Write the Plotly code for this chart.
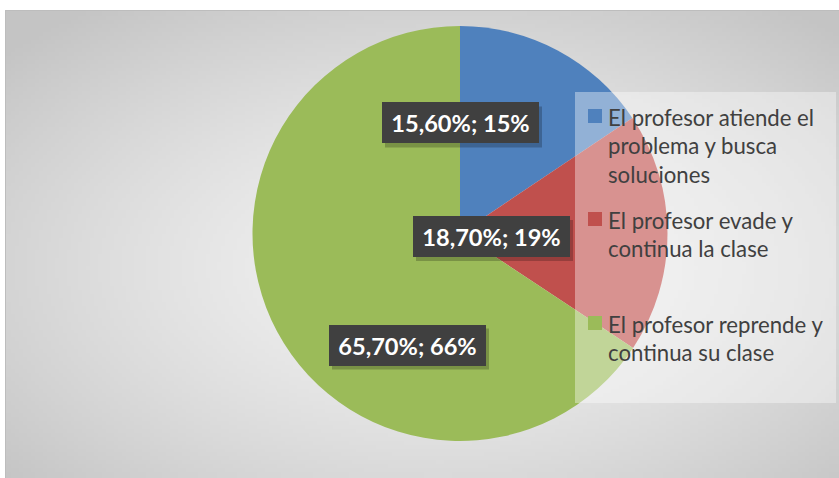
import zlib, struct, base64
import numpy as np
import plotly.graph_objects as go

# ---------------- data ----------------
categories = [
    "El profesor atiende el problema y busca soluciones",
    "El profesor evade y continua la clase",
    "El profesor reprende y continua su clase",
]
values = [15.6, 18.7, 65.7]
label_texts = ["15,60%; 15%", "18,70%; 19%", "65,70%; 66%"]
legend_lines = [
    ["El profesor atiende el", "problema y busca", "soluciones"],
    ["El profesor evade y", "continua la clase"],
    ["El profesor reprende y", "continua su clase"],
]

# ---------------- style ----------------
colors = ["#4F81BD", "#C0504D", "#9BBB59"]
W, H = 839, 478
FRAME = (5, 10, 839, 478)  # x0, y0, x1, y1 in px


def px(x):
    return x / W


def py(y):
    return 1 - y / H


def png_uri(arr):
    h, w, _ = arr.shape
    raw = b"".join(b"\x00" + arr[r].tobytes() for r in range(h))

    def chunk(tag, data):
        c = struct.pack(">I", len(data)) + tag + data
        return c + struct.pack(">I", zlib.crc32(tag + data) & 0xFFFFFFFF)

    png = b"\x89PNG\r\n\x1a\n"
    png += chunk(b"IHDR", struct.pack(">IIBBBBB", w, h, 8, 2, 0, 0, 0))
    png += chunk(b"IDAT", zlib.compress(raw, 9))
    png += chunk(b"IEND", b"")
    return "data:image/png;base64," + base64.b64encode(png).decode()


# radial grey gradient background
gw, gh = 210, 118
yy, xx = np.mgrid[0:gh, 0:gw]
dx = (xx / (gw - 1) - 0.52) / 0.5
dy = (yy / (gh - 1) - 0.55) / 0.5
d = np.clip(np.sqrt(dx ** 2 + dy ** 2) / np.sqrt(2), 0, 1)
val = 243 - (243 - 196) * d ** 1.4
img = np.repeat(val[:, :, None], 3, axis=2).astype(np.uint8)
bg_uri = png_uri(img)

fig = go.Figure()
fig.add_trace(go.Pie(
    labels=categories,
    values=values,
    sort=False,
    direction="clockwise",
    rotation=0,
    textinfo="none",
    marker=dict(colors=colors, line=dict(width=0)),
    domain=dict(x=[px(252.5), px(667.5)], y=[py(441), py(26)]),
    showlegend=False,
    hoverinfo="label+percent",
))

shapes = []
annotations = []

# frame border
shapes.append(dict(type="rect", xref="paper", yref="paper",
                   x0=px(FRAME[0] + 0.5), x1=px(FRAME[2] + 2), y0=py(FRAME[3] + 2), y1=py(FRAME[1] + 0.5),
                   line=dict(color="#BDBDBD", width=1), fillcolor="rgba(0,0,0,0)", layer="below"))

# data labels
label_centers = [(460.5, 123), (491.5, 236.5), (407.5, 345)]
BW, BH = 157, 41
for txt, (cx, cy) in zip(label_texts, label_centers):
    shapes.append(dict(type="rect", xref="paper", yref="paper",
                       x0=px(cx - BW / 2 + 3), x1=px(cx + BW / 2 + 3),
                       y0=py(cy + BH / 2 + 4), y1=py(cy - BH / 2 + 4),
                       line=dict(width=0), fillcolor="rgba(0,0,0,0.22)", layer="above"))
    annotations.append(dict(
        x=px(cx), y=py(cy), xref="paper", yref="paper",
        xanchor="center", yanchor="middle", showarrow=False,
        text=f"<b>{txt}</b>",
        font=dict(family="Lato", size=23.6, color="white"),
        bgcolor="#404040", borderwidth=0, borderpad=3,
        width=BW - 6, height=BH - 6,
    ))

# legend background
shapes.append(dict(type="rect", xref="paper", yref="paper",
                   x0=px(575), x1=px(836), y0=py(403), y1=py(92),
                   line=dict(width=0), fillcolor="rgba(255,255,255,0.38)", layer="above"))

item_top = [109, 212, 316]
LINE_H = 28.7
for i, lines in enumerate(legend_lines):
    t = item_top[i]
    shapes.append(dict(type="rect", xref="paper", yref="paper",
                       x0=px(588), x1=px(602), y0=py(t + 14), y1=py(t),
                       line=dict(width=0), fillcolor=colors[i], layer="above"))
    for j, ln in enumerate(lines):
        cy = t + 8 + j * LINE_H
        annotations.append(dict(
            x=px(606), y=py(cy), xref="paper", yref="paper",
            xanchor="left", yanchor="middle", showarrow=False,
            text=ln, font=dict(family="Lato", size=22.2, color="#404040"),
        ))

fig.update_layout(
    width=W, height=H,
    margin=dict(l=0, r=0, t=0, b=0),
    paper_bgcolor="white",
    plot_bgcolor="white",
    shapes=shapes,
    annotations=annotations,
    images=[dict(source=bg_uri, xref="paper", yref="paper",
                 x=px(FRAME[0]), y=py(FRAME[1]),
                 sizex=(FRAME[2] - FRAME[0]) / W, sizey=(FRAME[3] - FRAME[1]) / H,
                 xanchor="left", yanchor="top", sizing="stretch", layer="below")],
    showlegend=False,
)

fig.write_html("out.html", config={"displayModeBar": False},
               post_script="document.body.style.margin='0';document.body.style.overflow='hidden';")
